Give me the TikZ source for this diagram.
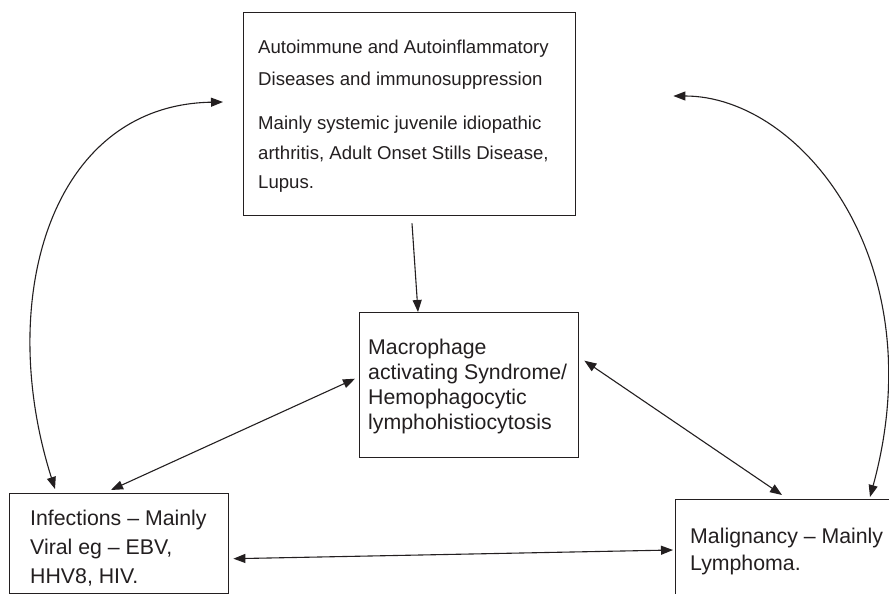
\documentclass[tikz,border=0pt]{standalone}
\usepackage{fontspec}
\setmainfont{Liberation Sans}
\usetikzlibrary{arrows.meta,calc}
\definecolor{ink}{HTML}{231F20}
\begin{document}
\begin{tikzpicture}[x=1pt,y=-1pt,
  box/.style={draw=ink,line width=1.4pt,inner sep=0pt,anchor=north west},
  txt/.style={anchor=base west,inner sep=0pt,font=\fontsize{21.3}{25}\selectfont,text=ink},
  toptxt/.style={txt,font=\fontsize{18.6}{22}\selectfont},
  conn/.style={draw=ink,line width=1.1pt},
  onetip/.style={-{Triangle[length=12pt,width=9pt]}},
  twotip/.style={{Triangle[length=12pt,width=9pt]}-{Triangle[length=12pt,width=9pt]}}
]
\useasboundingbox (0,0) rectangle (889,594);
\clip (0,0) rectangle (889,594);
\fill[white] (0,0) rectangle (889,594);

% boxes
\node[box,minimum width=332pt,minimum height=203pt] (auto) at (243,12) {};
\node[box,minimum width=219pt,minimum height=145pt] (mas) at (359,312) {};
\node[box,minimum width=219pt,minimum height=99.5pt] (inf) at (9,493) {};
\node[box,minimum width=260pt,minimum height=150pt] (mal) at (675,499) {};

% texts
\node[toptxt] (a1) at (258,54) {Autoimmune and Autoinflammatory};
\node[toptxt] (a2) at (258,85) {Diseases and immunosuppression};
\node[toptxt] (a3) at (258,129) {Mainly systemic juvenile idiopathic};
\node[toptxt] (a4) at (258,159) {arthritis, Adult Onset Stills Disease,};
\node[toptxt] (a5) at (258,188) {Lupus.};

\node[txt] (m1) at (368,354) {Macrophage};
\node[txt] (m2) at (368,379) {activating Syndrome/};
\node[txt] (m3) at (368,404) {Hemophagocytic};
\node[txt] (m4) at (368,429) {lymphohistiocytosis};

\node[txt] (i1) at (30,525) {Infections -- Mainly};
\node[txt] (i2) at (30,554) {Viral eg -- EBV,};
\node[txt] (i3) at (30,583) {HHV8, HIV.};

\node[txt] (l1) at (690,543) {Malignancy -- Mainly};
\node[txt] (l2) at (690,570) {Lymphoma.};

% straight connectors
\draw[conn,onetip] ($(auto.south west)+(169,7)$) -- ($(mas.north west)+(59,0)$);
\draw[conn,twotip] ($(mas.west)+(-4,-6.5)$) -- ($(inf.north west)+(102,-3)$);
\draw[conn,twotip] ($(mas.east)+(5,-24.5)$) -- ($(mal.north west)+(107,-4)$);
\draw[conn,twotip] ($(inf.east)+(4,15.25)$) -- ($(mal.north west)+(-2,51)$);

% curved connectors
\draw[conn,twotip] ($(inf.north west)+(46,-4)$) .. controls (-5,300) and (50,105) .. ($(auto.north west)+(-20,90)$);
\draw[conn,twotip] ($(auto.north east)+(97,84)$) .. controls (800,96) and (935,260) .. ($(mal.north west)+(195,-2)$);
\end{tikzpicture}
\end{document}
